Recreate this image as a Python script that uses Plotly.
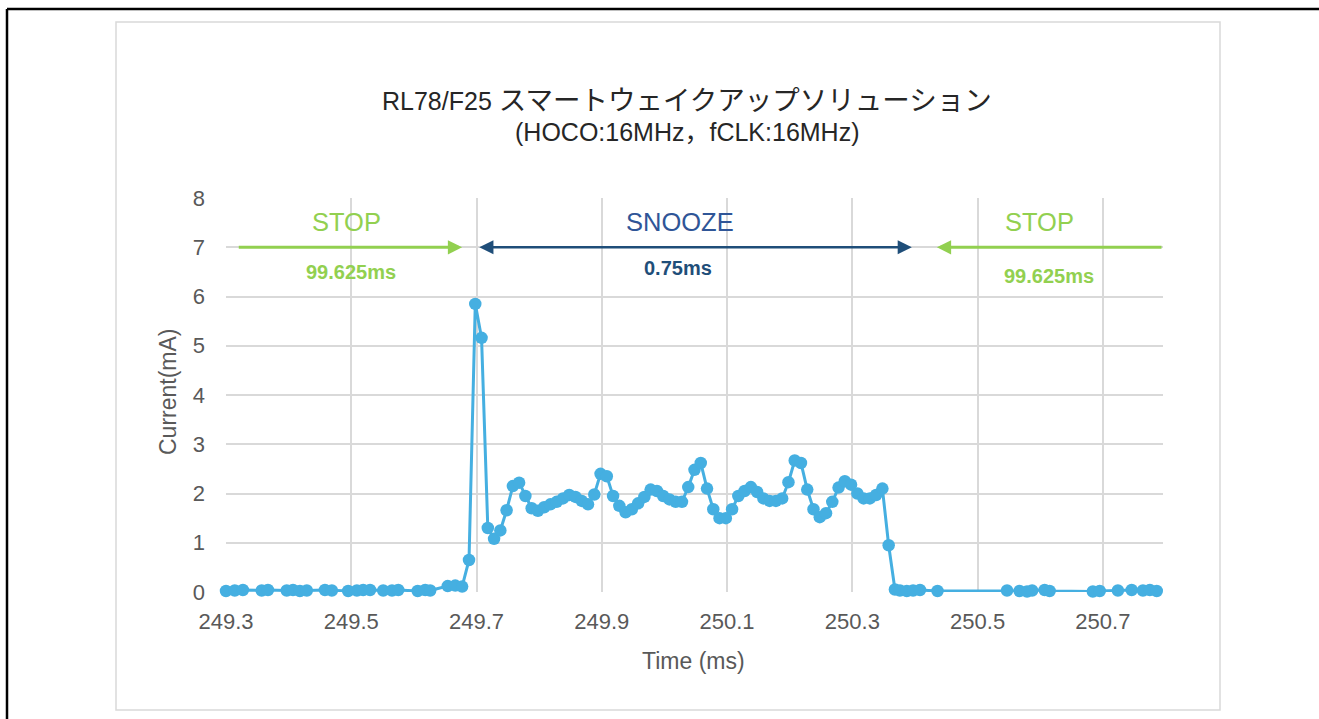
import plotly.graph_objects as go

# ---------------- data ----------------
stop_before_t = [249.300, 249.314, 249.327, 249.357, 249.367, 249.397, 249.407, 249.418,
                 249.429, 249.458, 249.469, 249.495, 249.509, 249.519, 249.530, 249.551,
                 249.565, 249.575, 249.606, 249.618, 249.626, 249.654, 249.666, 249.677]
stop_before_i = [0.02, 0.03, 0.04, 0.03, 0.04, 0.03, 0.04, 0.02,
                 0.03, 0.04, 0.03, 0.02, 0.03, 0.04, 0.04, 0.03,
                 0.03, 0.04, 0.02, 0.04, 0.03, 0.12, 0.13, 0.11]

snooze_t = [249.688, 249.698, 249.708, 249.718, 249.728, 249.738, 249.748, 249.758,
            249.768, 249.778, 249.788, 249.798, 249.808, 249.818, 249.828, 249.838,
            249.848, 249.858, 249.868, 249.878, 249.888, 249.898, 249.908, 249.918,
            249.928, 249.938, 249.948, 249.958, 249.968, 249.978, 249.988, 249.998,
            250.008, 250.018, 250.028, 250.038, 250.048, 250.058, 250.068, 250.078,
            250.088, 250.098, 250.108, 250.118, 250.128, 250.138, 250.148, 250.158,
            250.168, 250.178, 250.188, 250.198, 250.208, 250.218, 250.228, 250.238,
            250.248, 250.258, 250.268, 250.278, 250.288, 250.298, 250.308, 250.318,
            250.328, 250.338, 250.348, 250.358]
snooze_i = [0.65, 5.85, 5.16, 1.30, 1.08, 1.25, 1.66, 2.15,
            2.22, 1.95, 1.70, 1.65, 1.72, 1.78, 1.83, 1.90,
            1.97, 1.93, 1.85, 1.78, 1.98, 2.40, 2.35, 1.95,
            1.75, 1.62, 1.68, 1.80, 1.93, 2.08, 2.05, 1.95,
            1.88, 1.83, 1.83, 2.13, 2.48, 2.62, 2.10, 1.68,
            1.50, 1.50, 1.68, 1.95, 2.05, 2.13, 2.03, 1.90,
            1.85, 1.85, 1.90, 2.23, 2.67, 2.62, 2.08, 1.68,
            1.52, 1.60, 1.83, 2.12, 2.25, 2.18, 2.00, 1.90,
            1.90, 1.97, 2.10, 0.95]

stop_after_t = [250.368, 250.376, 250.387, 250.397, 250.408, 250.436, 250.547, 250.567,
                250.579, 250.587, 250.607, 250.615, 250.684, 250.695, 250.724, 250.746,
                250.764, 250.775, 250.786]
stop_after_i = [0.05, 0.03, 0.02, 0.03, 0.04, 0.02, 0.03, 0.02,
                0.01, 0.03, 0.04, 0.02, 0.01, 0.02, 0.03, 0.04,
                0.03, 0.04, 0.02]

x_ticks = [249.3, 249.5, 249.7, 249.9, 250.1, 250.3, 250.5, 250.7]
x_tick_labels = ["249.3", "249.5", "249.7", "249.9", "250.1", "250.3", "250.5", "250.7"]
y_ticks = [0, 1, 2, 3, 4, 5, 6, 7, 8]

title_latin = "RL78/F25 "
title_japanese = "スマートウェイクアップソリューション"
title_line2 = "(HOCO:16MHz，fCLK:16MHz)"
x_title = "Time (ms)"
y_title = "Current(mA)"
phase_labels = ["STOP", "SNOOZE", "STOP"]
phase_durations = ["99.625ms", "0.75ms", "99.625ms"]

# ---------------- style / layout ----------------
W, H = 1319, 719
PL, PR, PT, PB = 226, 1163, 198, 592   # plot area in pixels
BLUE = "#45AFE1"
GREEN = "#92D050"
DKBLUE = "#1F4E79"
SNZ = "#2F5597"
GRID = "#D9D9D9"
TXT = "#595959"
FONT = "Liberation Sans, Arial, Noto Sans CJK JP, sans-serif"


def px_x(px):
    return (px - PL) / (PR - PL)


def px_y(py):
    return (PB - py) / (PB - PT)


t_all = stop_before_t + snooze_t + stop_after_t
i_all = stop_before_i + snooze_i + stop_after_i

fig = go.Figure()
fig.add_trace(go.Scatter(
    x=t_all, y=i_all, mode="lines+markers",
    line=dict(color=BLUE, width=3),
    marker=dict(size=12.5, color=BLUE),
    cliponaxis=False, showlegend=False, hoverinfo="x+y",
))

x_min = x_ticks[0]
x_max = 250.796

annotations = []
# title
annotations.append(dict(text=title_latin + '<span style="font-size:27.5px">' + title_japanese + "</span>",
                        xref="paper", yref="paper", x=px_x(687), y=px_y(100),
                        xanchor="center", yanchor="middle", showarrow=False,
                        font=dict(size=25, color="#262626", family=FONT)))
annotations.append(dict(text=title_line2, xref="paper", yref="paper", x=px_x(687), y=px_y(132),
                        xanchor="center", yanchor="middle", showarrow=False,
                        font=dict(size=25, color="#262626", family=FONT)))
# axis titles
annotations.append(dict(text=x_title, xref="paper", yref="paper", x=px_x(693), y=px_y(661),
                        xanchor="center", yanchor="middle", showarrow=False,
                        font=dict(size=23, color=TXT, family=FONT)))
annotations.append(dict(text=y_title, xref="paper", yref="paper", x=px_x(168), y=px_y(392),
                        xanchor="center", yanchor="middle", showarrow=False, textangle=-90,
                        font=dict(size=23, color=TXT, family=FONT)))

# phase labels
label_pos = [(249.493, 7.51), (250.025, 7.51), (250.599, 7.51)]
label_col = [GREEN, SNZ, GREEN]
for (lx, ly), txt, col in zip(label_pos, phase_labels, label_col):
    annotations.append(dict(text=txt, x=lx, y=ly, xref="x", yref="y", showarrow=False,
                            xanchor="center", yanchor="middle",
                            font=dict(size=25.5, color=col, family=FONT)))
dur_pos = [(249.50, 6.50), (250.021, 6.58), (250.614, 6.42)]
dur_col = [GREEN, DKBLUE, GREEN]
for (lx, ly), txt, col in zip(dur_pos, phase_durations, dur_col):
    annotations.append(dict(text="<b>" + txt + "</b>", x=lx, y=ly, xref="x", yref="y",
                            showarrow=False, xanchor="center", yanchor="middle",
                            font=dict(size=20, color=col, family=FONT)))

# arrows
annotations.append(dict(x=249.677, y=7, ax=249.318, ay=7, xref="x", yref="y", axref="x", ayref="y",
                        text="", showarrow=True, arrowhead=2, arrowsize=0.95, arrowwidth=3,
                        arrowcolor=GREEN))
annotations.append(dict(x=250.395, y=7, ax=249.702, ay=7, xref="x", yref="y", axref="x", ayref="y",
                        text="", showarrow=True, arrowhead=2, startarrowhead=2, arrowside="end+start",
                        arrowsize=1.05, startarrowsize=1.05, arrowwidth=2.7, arrowcolor=DKBLUE))
annotations.append(dict(x=250.435, y=7, ax=x_max, ay=7, xref="x", yref="y", axref="x", ayref="y",
                        text="", showarrow=True, arrowhead=2, arrowsize=0.95, arrowwidth=3,
                        arrowcolor=GREEN))

shapes = [
    # chart frame
    dict(type="rect", xref="paper", yref="paper", x0=px_x(116), x1=px_x(1220),
         y0=px_y(710), y1=px_y(22), line=dict(color=GRID, width=1.5), layer="below"),
    # outer black border (top and left)
    dict(type="line", xref="paper", yref="paper", x0=px_x(7), x1=px_x(1330),
         y0=px_y(9), y1=px_y(9), line=dict(color="black", width=2.5)),
    dict(type="line", xref="paper", yref="paper", x0=px_x(7), x1=px_x(7),
         y0=px_y(9), y1=px_y(730), line=dict(color="black", width=2.5)),
]

fig.update_layout(
    width=W, height=H,
    margin=dict(l=PL, r=W - PR, t=PT, b=H - PB, pad=0),
    paper_bgcolor="white", plot_bgcolor="white",
    font=dict(family=FONT, color=TXT),
    annotations=annotations, shapes=shapes,
    xaxis=dict(range=[x_min, x_max], tickvals=x_ticks, ticktext=x_tick_labels,
               showgrid=True, gridcolor=GRID, gridwidth=1.5, zeroline=False, showline=False,
               ticks="", tickfont=dict(size=22, color=TXT, family=FONT),
               ticklabelstandoff=14, fixedrange=True),
    yaxis=dict(range=[0, 8], tickvals=y_ticks, showgrid=True, gridcolor=GRID, gridwidth=1.5,
               zeroline=False, showline=False, ticks="",
               tickfont=dict(size=22, color=TXT, family=FONT),
               ticklabelstandoff=20, fixedrange=True),
)

fig.write_html("out.html", config={"displayModeBar": False},
               post_script="document.body.style.margin='0';document.body.style.overflow='hidden';")
